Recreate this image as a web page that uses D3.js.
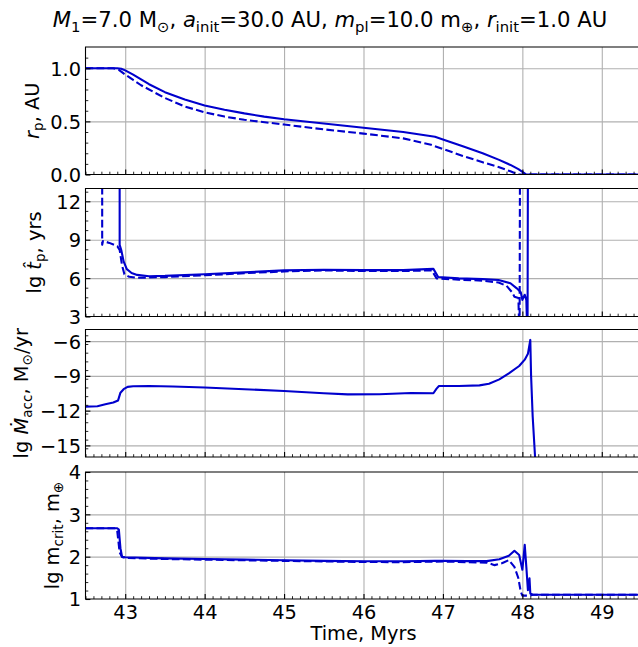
<!DOCTYPE html>
<html>
<head>
<meta charset="utf-8">
<script src="https://cdn.jsdelivr.net/npm/d3@7"></script>
<style>
  html, body { margin: 0; padding: 0; background: #fff; }
  svg { display: block; }
</style>
</head>
<body>
<svg id="chart" width="638" height="647"></svg>
<script>
// ---------------- DATA ----------------
const xTicks = [43, 44, 45, 46, 47, 48, 49];

// Panel 1: r_p (AU)
const rpTicks = [0.0, 0.5, 1.0];
const rpSolid = [[42.5,1.0],[42.9,1.0],[42.95,0.995],[43.0,0.98],[43.1,0.94],[43.2,0.895],[43.3,0.85],[43.5,0.775],[43.75,0.705],[44.0,0.65],[44.25,0.61],[44.5,0.575],[44.75,0.545],[45.0,0.52],[45.5,0.48],[46.0,0.44],[46.5,0.40],[46.9,0.355],[47.0,0.33],[47.25,0.265],[47.5,0.2],[47.7,0.14],[47.85,0.09],[47.95,0.05],[48.02,0.015],[48.05,0.0],[49.5,0.0]];
const rpDashed = [[42.5,1.0],[42.85,1.0],[42.92,0.985],[43.0,0.94],[43.1,0.89],[43.2,0.84],[43.35,0.78],[43.5,0.72],[43.75,0.64],[44.0,0.585],[44.25,0.545],[44.5,0.515],[45.0,0.47],[45.5,0.425],[46.0,0.385],[46.5,0.34],[46.85,0.28],[47.0,0.24],[47.25,0.175],[47.5,0.115],[47.7,0.07],[47.85,0.03],[47.95,0.0],[49.5,0.0]];

// Panel 2: lg t_p (yrs)
const tpTicks = [3, 6, 9, 12];
const tpSolid = [[42.93,14],[42.93,8.6],[42.95,8.2],[42.98,7.3],[43.02,6.7],[43.08,6.4],[43.15,6.25],[43.3,6.15],[43.5,6.17],[44.0,6.3],[44.5,6.45],[45.0,6.6],[45.5,6.65],[46.0,6.62],[46.5,6.62],[46.8,6.7],[46.88,6.72],[46.94,6.08],[47.2,5.98],[47.5,5.92],[47.7,5.85],[47.85,5.6],[47.93,5.2],[47.98,4.9],[48.0,4.3],[48.03,4.7],[48.05,4.3],[48.065,1],[48.07,15]];
const tpDashed = [[42.71,14],[42.71,8.6],[42.72,8.9],[42.8,8.75],[42.9,8.5],[42.93,8.2],[42.96,7.0],[42.99,6.3],[43.05,6.1],[43.15,6.02],[43.5,6.08],[44.0,6.22],[44.5,6.38],[45.0,6.52],[45.5,6.6],[46.0,6.55],[46.5,6.55],[46.8,6.6],[46.86,6.6],[46.92,5.98],[47.2,5.88],[47.5,5.8],[47.7,5.65],[47.8,5.4],[47.87,4.9],[47.9,4.55],[47.95,4.45],[47.965,1],[47.97,15]];

// Panel 3: lg Mdot_acc (Msun/yr)
const mdTicks = [-15, -12, -9, -6];
const mdSolid = [[42.5,-11.65],[42.65,-11.62],[42.75,-11.45],[42.85,-11.3],[42.91,-11.12],[42.92,-10.9],[42.94,-10.45],[42.98,-10.15],[43.03,-9.95],[43.1,-9.9],[43.3,-9.88],[43.6,-9.92],[44.0,-10.0],[44.5,-10.15],[45.0,-10.3],[45.5,-10.5],[45.8,-10.6],[46.2,-10.58],[46.6,-10.48],[46.88,-10.5],[46.92,-10.1],[46.95,-9.88],[47.2,-9.87],[47.46,-9.82],[47.58,-9.68],[47.71,-9.3],[47.83,-8.78],[47.96,-8.15],[48.03,-7.6],[48.07,-7.1],[48.1,-5.9],[48.11,-9.0],[48.13,-12.5],[48.16,-16.0],[48.17,-17]];

// Panel 4: lg m_crit (m_earth)
const mcTicks = [1, 2, 3, 4];
const mcSolid = [[42.5,2.67],[42.9,2.67],[42.92,2.64],[42.94,2.2],[42.96,2.0],[43.0,1.985],[43.5,1.96],[44.0,1.945],[44.5,1.93],[45.0,1.915],[45.5,1.9],[46.0,1.89],[46.5,1.89],[46.9,1.9],[47.0,1.905],[47.3,1.895],[47.55,1.895],[47.71,1.94],[47.83,2.02],[47.9,2.14],[47.96,2.04],[48.0,1.69],[48.03,2.28],[48.05,1.76],[48.07,1.21],[48.09,1.49],[48.1,1.13],[48.13,1.1],[49.5,1.1]];
const mcDashed = [[42.5,2.67],[42.88,2.67],[42.9,2.6],[42.93,2.1],[42.96,1.99],[43.0,1.97],[43.5,1.945],[44.0,1.93],[45.0,1.9],[46.0,1.875],[46.5,1.87],[47.0,1.885],[47.55,1.86],[47.65,1.8],[47.75,1.85],[47.83,1.92],[47.9,1.76],[47.95,1.49],[47.98,1.17],[48.0,1.08],[48.1,1.08],[48.13,1.1],[49.5,1.1]];

// ---------------- DRAWING ----------------
const FONT = "DejaVu Sans, sans-serif";
const FS = 19.4;
const TFS = 21.2;
const BLUE = "#0000cd";
const svg = d3.select("#chart");

const X0 = 85.5, X1 = 641.5;
const x = d3.scaleLinear().domain([42.5, 49.5]).range([X0, X1]);

function rich(sel, segs, fs) {
  let sub = false;
  segs.forEach(s => {
    const t = sel.append("tspan").text(s.t);
    if (s.i) t.attr("font-style", "italic");
    if (s.s && !sub) { t.attr("dy", fs * 0.22); sub = true; }
    else if (!s.s && sub) { t.attr("dy", -fs * 0.22); sub = false; }
    if (s.s) t.attr("font-size", fs * 0.7);
  });
}

const panels = [
  { top: 47, bottom: 174.5, domain: [0, 1.2], ticks: rpTicks, minor: 0.1, fmt: d3.format(".1f"),
    series: [{d: rpDashed, dash: true}, {d: rpSolid}],
    label: [{t:"r", i:true},{t:"p", s:true},{t:", AU"}], lx: 39 },
  { top: 188.5, bottom: 316.5, domain: [3, 13], ticks: tpTicks, minor: 0.75, fmt: d3.format("d"),
    series: [{d: tpDashed, dash: true}, {d: tpSolid}],
    label: [{t:"lg "},{t:"t\u0302", i:true},{t:"p", s:true},{t:", yrs"}], lx: 41 },
  { top: 329.5, bottom: 457, domain: [-16, -5], ticks: mdTicks, minor: 0.75, fmt: d3.format("d"),
    series: [{d: mdSolid}],
    label: [{t:"lg "},{t:"\u1E40", i:true},{t:"acc", s:true},{t:", M"},{t:"\u2299", s:true},{t:"/yr"}], lx: 28 },
  { top: 472, bottom: 599, domain: [1, 4], ticks: mcTicks, minor: 0.2, fmt: d3.format("d"),
    series: [{d: mcDashed, dash: true}, {d: mcSolid}],
    label: [{t:"lg m"},{t:"crit", s:true},{t:", m"},{t:"\u2295", s:true}], lx: 59 }
];

function range(a, b, step) {
  const out = [];
  const n = Math.round((b - a) / step);
  for (let k = 0; k <= n; k++) out.push(+(a + k * step).toFixed(6));
  return out;
}

const xMinor = range(42.5, 49.5, 0.1).filter(v => !xTicks.some(t => Math.abs(t - v) < 1e-6));

panels.forEach((p, idx) => {
  const y = d3.scaleLinear().domain(p.domain).range([p.bottom, p.top]);
  const g = svg.append("g");
  const h = p.bottom - p.top;

  // grid
  const gx = g.append("g").attr("transform", `translate(0,${p.bottom})`)
    .call(d3.axisBottom(x).tickValues(xTicks).tickSize(-h).tickFormat(""));
  gx.select(".domain").remove();
  gx.selectAll("line").attr("stroke", "#b0b0b0").attr("stroke-width", 1.1);
  const gy = g.append("g").attr("transform", `translate(${X0},0)`)
    .call(d3.axisLeft(y).tickValues(p.ticks.filter(t => t > p.domain[0] && t < p.domain[1])).tickSize(-(X1 - X0)).tickFormat(""));
  gy.select(".domain").remove();
  gy.selectAll("line").attr("stroke", "#b0b0b0").attr("stroke-width", 1.1);

  // clip
  const cid = "clip" + idx;
  svg.append("clipPath").attr("id", cid).append("rect")
    .attr("x", X0).attr("y", p.top).attr("width", X1 - X0).attr("height", h);

  const line = d3.line().x(d => x(d[0])).y(d => y(d[1]));
  p.series.forEach(s => {
    g.append("path").attr("d", line(s.d))
      .attr("clip-path", `url(#${cid})`)
      .attr("fill", "none").attr("stroke", BLUE).attr("stroke-width", 2.1)
      .attr("stroke-linejoin", "round")
      .attr("stroke-dasharray", s.dash ? "7.7,3.3" : null);
  });

  // minor ticks
  const mx = g.append("g").attr("transform", `translate(0,${p.bottom})`)
    .call(d3.axisBottom(x).tickValues(xMinor).tickSize(-2.8).tickSizeOuter(0).tickFormat(""));
  mx.select(".domain").remove();
  mx.selectAll("line").attr("stroke", "#000").attr("stroke-width", 0.85);
  const yMinor = range(p.domain[0], p.domain[1], p.minor).filter(v => !p.ticks.some(t => Math.abs(t - v) < 1e-6) && v < p.domain[1] - 1e-6 && v > p.domain[0] + 1e-6);
  const my = g.append("g").attr("transform", `translate(${X0},0)`)
    .call(d3.axisLeft(y).tickValues(yMinor).tickSize(-2.8).tickSizeOuter(0).tickFormat(""));
  my.select(".domain").remove();
  my.selectAll("line").attr("stroke", "#000").attr("stroke-width", 0.85);

  // major ticks + labels
  const ax = g.append("g").attr("transform", `translate(0,${p.bottom})`)
    .call(d3.axisBottom(x).tickValues(xTicks).tickSize(-4.9).tickSizeOuter(0).tickPadding(6.5)
      .tickFormat(idx === 3 ? d3.format("d") : ""));
  ax.select(".domain").remove();
  ax.selectAll("line").attr("stroke", "#000").attr("stroke-width", 1.1);
  ax.attr("font-family", FONT).attr("font-size", FS);
  ax.selectAll("text").attr("fill", "#000");

  const ay = g.append("g").attr("transform", `translate(${X0},0)`)
    .call(d3.axisLeft(y).tickValues(p.ticks).tickSize(-4.9).tickSizeOuter(0).tickPadding(4.5).tickFormat(p.fmt));
  ay.select(".domain").remove();
  ay.selectAll("line").attr("stroke", "#000").attr("stroke-width", 1.1);
  ay.attr("font-family", FONT).attr("font-size", FS);
  ay.selectAll("text").attr("fill", "#000").attr("dy", "0.36em");

  // frame (left, top, bottom)
  g.append("path")
    .attr("d", `M${X1},${p.top}H${X0}V${p.bottom}H${X1}`)
    .attr("fill", "none").attr("stroke", "#000").attr("stroke-width", 1.1);

  // y label
  const cy = (p.top + p.bottom) / 2;
  const lt = svg.append("text")
    .attr("transform", `translate(${p.lx},${cy}) rotate(-90)`)
    .attr("text-anchor", "middle")
    .attr("font-family", FONT).attr("font-size", FS).attr("fill", "#000");
  rich(lt, p.label, FS);
});

// x label
svg.append("text").attr("x", (X0 + X1) / 2).attr("y", 640)
  .attr("text-anchor", "middle").attr("font-family", FONT).attr("font-size", FS)
  .text("Time, Myrs");

// title
const title = svg.append("text").attr("x", 330).attr("y", 27)
  .attr("text-anchor", "middle").attr("font-family", FONT).attr("font-size", TFS);
rich(title, [
  {t:"M", i:true},{t:"1", s:true},{t:"=7.0 M"},{t:"\u2299", s:true},{t:", "},
  {t:"a", i:true},{t:"init", s:true},{t:"=30.0 AU, "},
  {t:"m", i:true},{t:"pl", s:true},{t:"=10.0 m"},{t:"\u2295", s:true},{t:", "},
  {t:"r", i:true},{t:"init", s:true},{t:"=1.0 AU"}
], TFS);
</script>
</body>
</html>
